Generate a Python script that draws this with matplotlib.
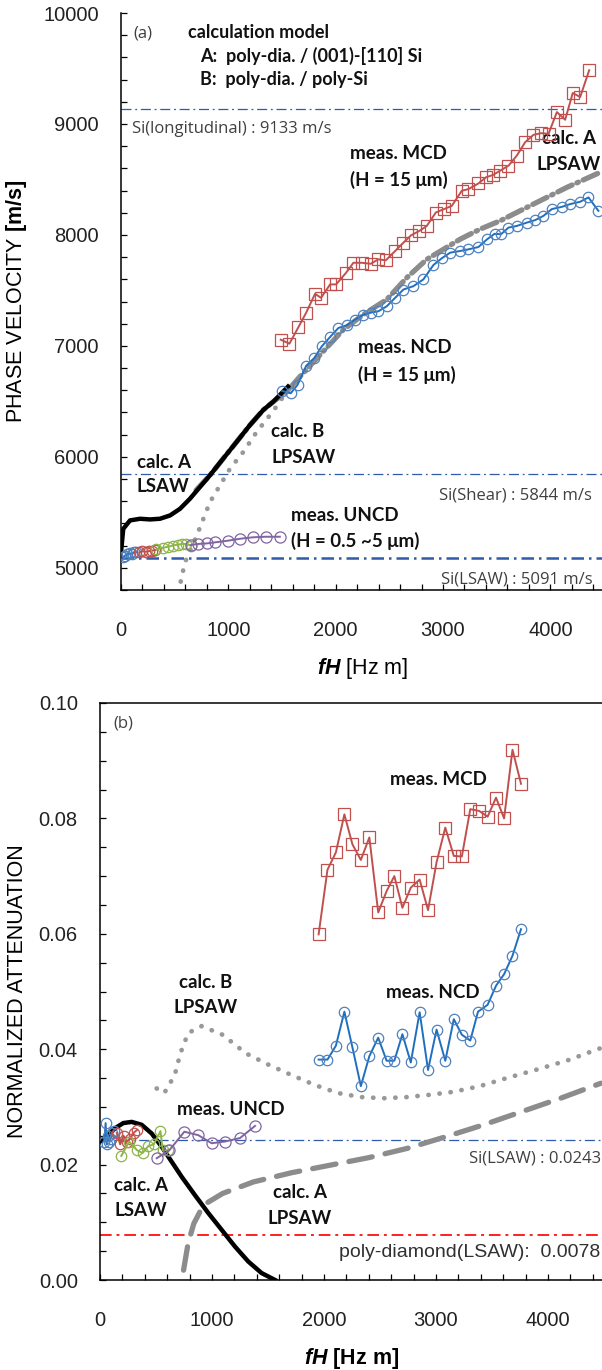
import matplotlib.pyplot as plt
from matplotlib.ticker import MultipleLocator

plt.rcParams['font.family'] = ['Liberation Sans', 'DejaVu Sans']
plt.rcParams['mathtext.fontset'] = 'custom'
plt.rcParams['mathtext.rm'] = 'Liberation Sans'
plt.rcParams['mathtext.it'] = 'Liberation Sans:italic:bold'
plt.rcParams['mathtext.bf'] = 'Liberation Sans:bold'

# ---------------- (a) phase velocity ------------------------------------------
mcd_fh = [1488, 1569, 1652, 1724, 1808, 1864, 1948, 2004, 2097, 2165, 2243, 2327, 2398, 2467,
          2554, 2631, 2703, 2780, 2849, 2933, 3010, 3082, 3175, 3237, 3330, 3400, 3465, 3532,
          3610, 3688, 3765, 3843, 3914, 3983, 4061, 4138, 4209, 4278, 4362]
mcd_v = [7056, 7020, 7167, 7297, 7469, 7433, 7554, 7554, 7659, 7749, 7749, 7740, 7780, 7771,
         7855, 7930, 7997, 8036, 8081, 8202, 8233, 8262, 8398, 8413, 8464, 8519, 8540, 8579,
         8624, 8715, 8835, 8902, 8917, 8911, 9107, 9038, 9279, 9243, 9484]

ncd_fh = [1502, 1581, 1645, 1725, 1800, 1870, 1948, 2025, 2103, 2181, 2258, 2330, 2398, 2476,
          2554, 2631, 2724, 2817, 2911, 2988, 3066, 3159, 3237, 3330, 3410, 3480, 3540, 3610,
          3688, 3781, 3858, 3936, 4014, 4107, 4185, 4278, 4355, 4448]
ncd_v = [6594, 6573, 6649, 6820, 6890, 6995, 7080, 7161, 7186, 7237, 7282, 7300, 7312, 7357,
         7433, 7508, 7538, 7599, 7729, 7789, 7840, 7855, 7870, 7891, 7960, 8010, 8006, 8066,
         8081, 8111, 8133, 8172, 8233, 8253, 8278, 8299, 8338, 8217]

uncd_blue_fh = [20, 40, 60, 80, 100, 120, 140]
uncd_blue_v = [5100, 5110, 5120, 5130, 5125, 5140, 5140]
uncd_red_fh = [170, 200, 230, 260, 290, 320]
uncd_red_v = [5140, 5150, 5145, 5150, 5155, 5160]
uncd_green_fh = [330, 390, 440, 480, 530, 570, 610, 650]
uncd_green_v = [5165, 5180, 5190, 5200, 5210, 5215, 5215, 5200]
uncd_purple_fh = [650, 720, 800, 880, 1000, 1110, 1230, 1350, 1480]
uncd_purple_v = [5205, 5215, 5220, 5230, 5245, 5262, 5275, 5280, 5280]

calcA_lsaw_fh = [0, 21, 84, 177, 270, 363, 457, 550, 643, 736, 829, 953, 1078, 1202, 1326, 1420, 1556]
calcA_lsaw_v = [5140, 5351, 5427, 5442, 5436, 5442, 5472, 5532, 5623, 5729, 5834, 5985, 6136,
                6287, 6423, 6498, 6633]

calcA_lpsaw_fh = [700, 829, 953, 1078, 1202, 1326, 1420, 1544, 1668, 1855, 2072, 2258, 2476,
                  2662, 2849, 3159, 3346, 3532, 3843, 4153, 4464]
calcA_lpsaw_v = [5700, 5834, 5985, 6136, 6287, 6423, 6498, 6588, 6724, 6920, 7146, 7282, 7418,
                 7614, 7780, 7961, 8052, 8127, 8278, 8428, 8564]

calcB_lpsaw_fh = [534, 596, 706, 829, 923, 1016, 1140, 1265, 1389, 1482, 1519, 1600]
calcB_lpsaw_v = [4778, 5050, 5291, 5593, 5744, 5894, 6045, 6226, 6377, 6498, 6558, 6640]

si_long_v = 9133
si_shear_v = 5844
si_lsaw_v = 5091

# ---------------- (b) attenuation ----------------------------------------------
mcd_att_fh = [1952, 2031, 2106, 2182, 2254, 2329, 2405, 2484, 2559, 2628, 2700, 2775, 2854,
              2929, 3005, 3083, 3159, 3231, 3306, 3385, 3461, 3536, 3608, 3683, 3759]
mcd_att = [0.0599, 0.0711, 0.0741, 0.0807, 0.0755, 0.0728, 0.0767, 0.0637, 0.0674, 0.0700,
           0.0645, 0.0680, 0.0694, 0.0641, 0.0724, 0.0784, 0.0735, 0.0734, 0.0816, 0.0813,
           0.0803, 0.0836, 0.0800, 0.0919, 0.0860]

ncd_att_fh = [1952, 2031, 2106, 2182, 2254, 2329, 2405, 2484, 2559, 2628, 2700, 2775, 2854,
              2929, 3005, 3083, 3159, 3231, 3306, 3375, 3461, 3536, 3608, 3683, 3759]
ncd_att = [0.0382, 0.0382, 0.0406, 0.0465, 0.0403, 0.0336, 0.0388, 0.0420, 0.0380, 0.0380,
           0.0426, 0.0377, 0.0464, 0.0364, 0.0434, 0.0380, 0.0452, 0.0425, 0.0415, 0.0465,
           0.0477, 0.0510, 0.0530, 0.0562, 0.0608]

uncd_att_blue_fh = [40, 50, 60, 70, 80, 95, 110, 125]
uncd_att_blue = [0.0240, 0.0272, 0.0235, 0.0250, 0.0240, 0.0245, 0.0255, 0.0258]
uncd_att_red_fh = [150, 180, 210, 240, 270, 300, 330]
uncd_att_red = [0.0255, 0.0235, 0.0250, 0.0240, 0.0245, 0.0255, 0.0260]
uncd_att_green_fh = [190, 260, 330, 380, 430, 480, 540, 560, 610]
uncd_att_green = [0.0215, 0.0240, 0.0225, 0.0220, 0.0232, 0.0235, 0.0258, 0.0225, 0.0225]
uncd_att_purple_fh = [506, 620, 753, 878, 997, 1116, 1250, 1384]
uncd_att_purple = [0.0211, 0.0225, 0.0257, 0.0251, 0.0237, 0.0240, 0.0246, 0.0267]

calcA_lsaw_att_fh = [0, 45, 134, 208, 283, 372, 461, 551, 640, 729, 848, 967, 1086, 1205, 1324,
                     1443, 1563]
calcA_lsaw_att = [0.0240, 0.0246, 0.0263, 0.0272, 0.0274, 0.0269, 0.0254, 0.0231, 0.0205,
                  0.0179, 0.0147, 0.0116, 0.0087, 0.0058, 0.0032, 0.0012, 0.0]

calcA_lpsaw_att_fh = [746, 787, 838, 924, 1095, 1370, 1712, 2055, 2398, 2741, 3083, 3426, 3769,
                      4112, 4472]
calcA_lpsaw_att = [0.0017, 0.0064, 0.0098, 0.0130, 0.0150, 0.0170, 0.0186, 0.0199, 0.0212,
                   0.0228, 0.0248, 0.0269, 0.0292, 0.0315, 0.0341]

calcB_lpsaw_att_fh = [506, 574, 667, 718, 787, 907, 1095, 1301, 1506, 1712, 1918, 2124, 2329,
                      2535, 2741, 2946, 3152, 3392, 3632, 3906, 4180, 4472]
calcB_lpsaw_att = [0.0332, 0.0324, 0.0355, 0.0393, 0.0428, 0.0440, 0.0425, 0.0393, 0.0373,
                   0.0355, 0.0338, 0.0324, 0.0317, 0.0315, 0.0317, 0.0321, 0.0326, 0.0336,
                   0.0350, 0.0365, 0.0381, 0.0402]

si_lsaw_att = 0.0243
diamond_lsaw_att = 0.0078

# colours --------------------------------------------------------------------------
RED = '#C0504D'
BLUE = '#1F6FC0'
BLUE_M = '#4F81BD'
GREEN = '#8DB54A'
PURPLE = '#8064A2'
GRAY = '#8C8C8C'
REF_BLUE = '#2F5BAA'
TXT_GRAY = '#404040'
LBL = dict(family=['Lato', 'DejaVu Sans'], fontweight='bold', fontsize=13.5, color='#111111')
NOTE = dict(family=['Open Sans', 'DejaVu Sans'], fontsize=12, color=TXT_GRAY)

fig = plt.figure(figsize=(6.02, 13.70), dpi=100)
ax1 = fig.add_axes([121 / 602, 1 - 590 / 1370, 483 / 602, 577 / 1370])
ax2 = fig.add_axes([100 / 602, 1 - 1280 / 1370, 504 / 602, 577 / 1370])


def meas(ax, x, y, color, mcolor, marker, ms=7.5):
    ax.plot(x, y, '-', color=color, lw=1.4, marker=marker, ms=ms, mfc='none',
            mec=mcolor, mew=0.9, zorder=4)


# ---- panel (a) ----
ax1.axhline(si_long_v, color=REF_BLUE, lw=0.9, ls=(0, (8, 3, 1.5, 3)), zorder=1)
ax1.axhline(si_shear_v, color=REF_BLUE, lw=0.9, ls=(0, (8, 3, 1.5, 3)), zorder=1)
ax1.axhline(si_lsaw_v, color=REF_BLUE, lw=1.8, ls=(0, (5, 2, 1, 2)), zorder=1)

ax1.plot(calcB_lpsaw_fh, calcB_lpsaw_v, color='#999999', lw=3.4, ls=(0, (0.05, 2.3)),
         dash_capstyle='round', zorder=2)
ax1.plot(calcA_lpsaw_fh, calcA_lpsaw_v, color=GRAY, lw=3.8, ls=(0, (3, 1, 0.3, 1)),
         dash_capstyle='round', zorder=2)
ax1.plot(calcA_lsaw_fh, calcA_lsaw_v, color='black', lw=3.2, zorder=3)

meas(ax1, mcd_fh, mcd_v, RED, RED, 's', ms=8)
meas(ax1, ncd_fh, ncd_v, BLUE, BLUE_M, 'o')
meas(ax1, uncd_blue_fh, uncd_blue_v, BLUE, BLUE_M, 'o')
meas(ax1, uncd_red_fh, uncd_red_v, RED, RED, 'o')
meas(ax1, uncd_green_fh, uncd_green_v, GREEN, GREEN, 'o')
meas(ax1, uncd_purple_fh, uncd_purple_v, PURPLE, PURPLE, 'o', ms=8)

ax1.set_xlim(0, 4500)
ax1.set_ylim(4800, 10000)
ax1.yaxis.set_major_locator(MultipleLocator(1000))
ax1.yaxis.set_minor_locator(MultipleLocator(200))
ax1.spines['top'].set_visible(False)

ax1.text(112, 9819, '(a)', va='center', **NOTE)
ax1.text(624, 9828, 'calculation model', va='center', **dict(LBL, fontsize=13))
ax1.text(736, 9611, 'A:  poly-dia. / (001)-[110] Si', va='center', **dict(LBL, fontsize=13))
ax1.text(736, 9403, 'B:  poly-dia. / poly-Si', va='center', **dict(LBL, fontsize=13))
ax1.text(103, 8959, 'Si(longitudinal) : 9133 m/s', va='center', **NOTE)
ax1.text(4390, 5656, 'Si(Shear) : 5844 m/s', va='center', ha='right', **NOTE)
ax1.text(4390, 4896, 'Si(LSAW) : 5091 m/s', va='center', ha='right', **NOTE)

ax1.text(2134, 8733, 'meas. MCD', va='center', **LBL)
ax1.text(2134, 8498, '(H = 15 μm)', va='center', **LBL)
ax1.text(4175, 8869, 'calc. A', va='center', ha='center', **LBL)
ax1.text(4175, 8633, 'LPSAW', va='center', ha='center', **LBL)
ax1.text(2209, 6986, 'meas. NCD', va='center', **LBL)
ax1.text(2209, 6742, '(H = 15 μm)', va='center', **LBL)
ax1.text(1398, 6226, 'calc. B', va='center', **LBL)
ax1.text(1398, 5991, 'LPSAW', va='center', **LBL)
ax1.text(149, 5946, 'calc. A', va='center', **LBL)
ax1.text(149, 5729, 'LSAW', va='center', **LBL)
ax1.text(1584, 5475, 'meas. UNCD', va='center', **LBL)
ax1.text(1584, 5240, '(H = 0.5 ~5 μm)', va='center', **LBL)

ax1.set_ylabel('PHASE VELOCITY $\\mathbf{[m/s]}$', fontsize=15.5)
ax1.yaxis.set_label_coords(-0.19, 0.5)
ax1.set_xlabel('$\\it{fH}$ [Hz m]', fontsize=15.5, labelpad=12)

# ---- panel (b) ----
ax2.axhline(si_lsaw_att, color=REF_BLUE, lw=0.9, ls=(0, (8, 3, 1.5, 3)), zorder=1)
ax2.axhline(diamond_lsaw_att, color='#FF2020', lw=1.4, ls=(0, (6, 2.5, 1.5, 2.5)), zorder=1)

ax2.plot(calcB_lpsaw_att_fh, calcB_lpsaw_att, color='#999999', lw=3.4, ls=(0, (0.05, 2.3)),
         dash_capstyle='round', zorder=2)
ax2.plot(calcA_lpsaw_att_fh, calcA_lpsaw_att, color=GRAY, lw=3.8, ls=(0, (4.5, 2.5)),
         dash_capstyle='round', zorder=2)
ax2.plot(calcA_lsaw_att_fh, calcA_lsaw_att, color='black', lw=3.2, zorder=3)

meas(ax2, mcd_att_fh, mcd_att, RED, RED, 's', ms=8)
meas(ax2, ncd_att_fh, ncd_att, BLUE, BLUE_M, 'o')
meas(ax2, uncd_att_blue_fh, uncd_att_blue, BLUE, BLUE_M, 'o')
meas(ax2, uncd_att_red_fh, uncd_att_red, RED, RED, 'o')
meas(ax2, uncd_att_green_fh, uncd_att_green, GREEN, GREEN, 'o')
meas(ax2, uncd_att_purple_fh, uncd_att_purple, PURPLE, PURPLE, 'o', ms=8)

ax2.set_xlim(0, 4500)
ax2.set_ylim(0, 0.10)
ax2.yaxis.set_major_locator(MultipleLocator(0.02))
ax2.yaxis.set_minor_locator(MultipleLocator(0.005))
ax2.yaxis.set_major_formatter(plt.FormatStrFormatter('%.2f'))

ax2.text(116, 0.0965, '(b)', va='center', **NOTE)
ax2.text(2589, 0.0868, 'meas. MCD', va='center', **LBL)
ax2.text(2554, 0.0499, 'meas. NCD', va='center', **LBL)
ax2.text(946, 0.0516, 'calc. B', va='center', ha='center', **LBL)
ax2.text(946, 0.0473, 'LPSAW', va='center', ha='center', **LBL)
ax2.text(688, 0.0296, 'meas. UNCD', va='center', **LBL)
ax2.text(366, 0.0163, 'calc. A', va='center', ha='center', **LBL)
ax2.text(366, 0.0121, 'LSAW', va='center', ha='center', **LBL)
ax2.text(1786, 0.0151, 'calc. A', va='center', ha='center', **LBL)
ax2.text(1786, 0.0107, 'LPSAW', va='center', ha='center', **LBL)
ax2.text(4473, 0.0211, 'Si(LSAW) : 0.0243', va='center', ha='right', **NOTE)
ax2.text(4464, 0.0047, 'poly-diamond(LSAW):  0.0078', va='center', ha='right',
         fontsize=14, color='#303030')

ax2.set_ylabel('NORMALIZED ATTENUATION', fontsize=15.5)
ax2.yaxis.set_label_coords(-0.143, 0.5)
ax2.set_xlabel('$\\it{fH}$ $\\mathbf{[Hz\\ m]}$', fontsize=15.5, labelpad=12)

for ax in (ax1, ax2):
    ax.xaxis.set_major_locator(MultipleLocator(1000))
    ax.xaxis.set_minor_locator(MultipleLocator(200))
    ax.spines['right'].set_visible(False)
    for s in ax.spines.values():
        s.set_linewidth(1.1)
    ax.tick_params(which='both', direction='in', length=4.5, width=0.9, labelsize=14.5,
                   labelcolor='#222222')
    ax.tick_params(axis='x', which='major', pad=22)
    ax.tick_params(axis='y', which='major', pad=16)

fig.savefig('out.png', dpi=100)
